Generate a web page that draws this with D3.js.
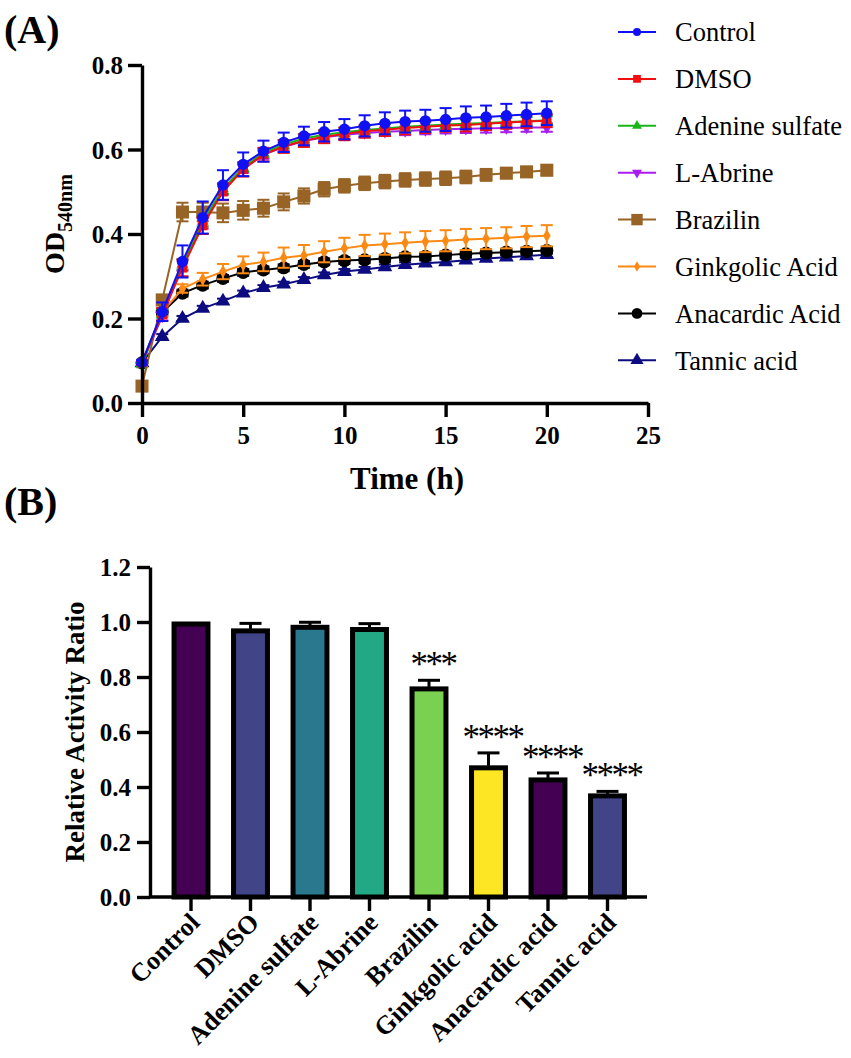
<!DOCTYPE html>
<html><head><meta charset="utf-8">
<script src="https://cdn.jsdelivr.net/npm/d3@7"></script>
<style>
body{margin:0;background:#fff;}
svg{display:block;}
text{font-family:"Liberation Serif","Times New Roman",serif;}
</style></head>
<body>
<svg id="chart" width="851" height="1058"></svg>
<script>
// ---------- Panel A data ----------
const timeH = [0,1,2,3,4,5,6,7,8,9,10,11,12,13,14,15,16,17,18,19,20];
const xTicksA = [0,5,10,15,20,25];
const yTicksA = [0.0,0.2,0.4,0.6,0.8];
const seriesNames = ["Control","DMSO","Adenine sulfate","L-Abrine","Brazilin","Ginkgolic Acid","Anacardic Acid","Tannic acid"];
const seriesColors = ["#1010f5","#f01010","#18b418","#a81cf0","#986426","#fb8a14","#000000","#0c0c80"];
const seriesShapes = ["circle","square","triangle","triangleDown","square","diamond","circle","triangle"];
const seriesMarkerSize = [100,90,60,60,170,50,135,95];
const legendMarkerSize = [50,60,42,42,130,32,90,75];

const control   = [0.096,0.216,0.335,0.439,0.516,0.565,0.596,0.617,0.632,0.642,0.648,0.656,0.662,0.666,0.668,0.671,0.675,0.677,0.680,0.683,0.686];
const controlSD = [0.005,0.022,0.038,0.038,0.035,0.028,0.025,0.023,0.022,0.023,0.024,0.025,0.026,0.026,0.026,0.027,0.027,0.027,0.028,0.028,0.028];
const dmso      = [0.095,0.210,0.320,0.420,0.500,0.553,0.588,0.607,0.621,0.630,0.637,0.643,0.647,0.651,0.654,0.657,0.658,0.661,0.664,0.666,0.668];
const dmsoSD    = [0.005,0.015,0.020,0.020,0.020,0.017,0.016,0.015,0.015,0.015,0.015,0.015,0.015,0.015,0.015,0.015,0.015,0.015,0.015,0.015,0.015];
const adenine   = [0.090,0.212,0.328,0.430,0.507,0.558,0.592,0.612,0.626,0.635,0.641,0.646,0.650,0.654,0.656,0.659,0.661,0.663,0.665,0.667,0.669];
const adenineSD = [0.004,0.010,0.012,0.012,0.012,0.010,0.010,0.010,0.010,0.010,0.010,0.010,0.010,0.010,0.010,0.010,0.010,0.010,0.010,0.010,0.010];
const abrine    = [0.095,0.205,0.325,0.425,0.505,0.555,0.588,0.606,0.620,0.629,0.635,0.639,0.642,0.644,0.646,0.648,0.649,0.650,0.651,0.652,0.652];
const abrineSD  = [0.004,0.010,0.012,0.012,0.012,0.010,0.010,0.010,0.010,0.010,0.010,0.010,0.010,0.010,0.010,0.010,0.010,0.010,0.010,0.010,0.010];
const brazilin  = [0.040,0.244,0.452,0.452,0.450,0.456,0.461,0.476,0.490,0.506,0.514,0.520,0.524,0.528,0.530,0.532,0.535,0.540,0.544,0.547,0.551];
const brazilinSD= [0.003,0.005,0.022,0.022,0.022,0.022,0.020,0.020,0.018,0.017,0.016,0.016,0.016,0.016,0.016,0.016,0.015,0.014,0.012,0.012,0.012];
const ginkgolic = [0.095,0.215,0.271,0.293,0.311,0.327,0.334,0.344,0.349,0.358,0.366,0.373,0.376,0.379,0.382,0.384,0.387,0.389,0.391,0.394,0.396];
const ginkgolicSD=[0.005,0.010,0.010,0.015,0.018,0.020,0.022,0.024,0.025,0.025,0.025,0.025,0.025,0.025,0.025,0.025,0.025,0.025,0.025,0.025,0.025];
const anacardic = [0.095,0.215,0.260,0.279,0.295,0.309,0.315,0.320,0.328,0.334,0.337,0.339,0.342,0.346,0.347,0.350,0.353,0.355,0.357,0.359,0.361];
const anacardicSD=[0.004,0.008,0.008,0.008,0.008,0.008,0.008,0.008,0.008,0.008,0.008,0.008,0.008,0.008,0.008,0.008,0.008,0.008,0.008,0.008,0.008];
const tannic    = [0.095,0.157,0.200,0.224,0.241,0.260,0.273,0.281,0.292,0.303,0.311,0.316,0.322,0.327,0.331,0.334,0.338,0.342,0.345,0.348,0.351];
const tannicSD  = [0.004,0.006,0.006,0.006,0.006,0.006,0.006,0.006,0.006,0.006,0.006,0.006,0.006,0.006,0.006,0.006,0.006,0.006,0.006,0.006,0.006];

const seriesValues = [control,dmso,adenine,abrine,brazilin,ginkgolic,anacardic,tannic];
const seriesSD = [controlSD,dmsoSD,adenineSD,abrineSD,brazilinSD,ginkgolicSD,anacardicSD,tannicSD];

// ---------- Panel B data ----------
const categories = ["Control","DMSO","Adenine sulfate","L-Abrine","Brazilin","Ginkgolic acid","Anacardic acid","Tannic acid"];
const activity   = [1.000,0.975,0.988,0.980,0.764,0.477,0.433,0.375];
const activitySD = [0.000,0.020,0.011,0.014,0.024,0.047,0.018,0.009];
const significance = ["","","","","***","****","****","****"];
const barColors = ["#440154","#414487","#2a788e","#22a884","#7ad151","#fde725","#440154","#414487"];
const yTicksB = [0.0,0.2,0.4,0.6,0.8,1.0,1.2];

const svg = d3.select("#chart");
const shapeMap = {circle:d3.symbolCircle,square:d3.symbolSquare,triangle:d3.symbolTriangle,triangleDown:d3.symbolTriangle,diamond:d3.symbolDiamond};
function symPath(shape,size){ return d3.symbol().type(shapeMap[shape]).size(size)(); }

// ================= Panel A =================
const xA = d3.scaleLinear().domain([0,25]).range([142,648]);
const yA = d3.scaleLinear().domain([0,0.8]).range([403,65]);

svg.append("text").attr("x",4).attr("y",43).attr("font-size",40).attr("font-weight","bold").text("(A)");

const gA = svg.append("g");
for (let s = seriesNames.length-1; s >= 0; s--) {
  const vals = seriesValues[s], sd = seriesSD[s], col = seriesColors[s];
  const g = gA.append("g");
  const pts = timeH.map((t,i)=>({t,v:vals[i],sd:sd[i]}));
  const eb = g.selectAll("g.eb").data(pts).join("g");
  eb.append("line").attr("x1",d=>xA(d.t)).attr("x2",d=>xA(d.t))
    .attr("y1",d=>yA(d.v-d.sd)).attr("y2",d=>yA(d.v+d.sd))
    .attr("stroke",col).attr("stroke-width",2);
  eb.append("line").attr("x1",d=>xA(d.t)-6).attr("x2",d=>xA(d.t)+6)
    .attr("y1",d=>yA(d.v+d.sd)).attr("y2",d=>yA(d.v+d.sd)).attr("stroke",col).attr("stroke-width",2);
  eb.append("line").attr("x1",d=>xA(d.t)-6).attr("x2",d=>xA(d.t)+6)
    .attr("y1",d=>yA(d.v-d.sd)).attr("y2",d=>yA(d.v-d.sd)).attr("stroke",col).attr("stroke-width",2);
  g.append("path").datum(pts)
    .attr("d",d3.line().x(d=>xA(d.t)).y(d=>yA(d.v)))
    .attr("fill","none").attr("stroke",col).attr("stroke-width",2);
  g.selectAll("path.m").data(pts).join("path")
    .attr("d",symPath(seriesShapes[s],seriesMarkerSize[s]))
    .attr("transform",d=>`translate(${xA(d.t)},${yA(d.v)})${seriesShapes[s]==="triangleDown"?" rotate(180)":""}`)
    .attr("fill",col);
}

const axA = svg.append("g");
const xAxisA = axA.append("g").attr("transform",`translate(0,${yA(0)})`)
  .call(d3.axisBottom(xA).tickValues(xTicksA).tickSize(14).tickFormat(d3.format("d")).tickSizeOuter(0));
const yAxisA = axA.append("g").attr("transform",`translate(${xA(0)},0)`)
  .call(d3.axisLeft(yA).tickValues(yTicksA).tickSize(14).tickFormat(d3.format(".1f")).tickSizeOuter(0));
[xAxisA,yAxisA].forEach(a=>{
  a.selectAll("path.domain").attr("stroke","#000").attr("stroke-width",3.4);
  a.selectAll(".tick line").attr("stroke","#000").attr("stroke-width",3.4);
  a.selectAll(".tick text").attr("font-family","Liberation Serif").attr("font-weight","bold").attr("font-size",25).attr("fill","#000");
});
xAxisA.selectAll(".tick text").attr("dy","0.95em");
yAxisA.selectAll(".tick text").attr("dx","-2").attr("dy","0.35em");

svg.append("text").attr("x",(xA(0)+xA(25))/2+12).attr("y",489).attr("text-anchor","middle")
  .attr("font-size",31).attr("font-weight","bold").text("Time (h)");
const odLab = svg.append("text").attr("transform",`translate(64,${yA(0.4)-10}) rotate(-90)`).attr("text-anchor","middle")
  .attr("font-size",28).attr("font-weight","bold");
odLab.append("tspan").text("OD");
odLab.append("tspan").attr("font-size",20).attr("dy",8).text("540nm");

const legG = svg.append("g");
seriesNames.forEach((n,i)=>{
  const y = 32 + i*46.9;
  const row = legG.append("g").attr("transform",`translate(0,${y})`);
  row.append("line").attr("x1",618).attr("x2",656).attr("y1",0).attr("y2",0).attr("stroke",seriesColors[i]).attr("stroke-width",2);
  row.append("path").attr("d",symPath(seriesShapes[i],legendMarkerSize[i]))
    .attr("transform",`translate(637,0)${seriesShapes[i]==="triangleDown"?" rotate(180)":""}`).attr("fill",seriesColors[i]);
  row.append("text").attr("x",675).attr("y",0).attr("dy","0.35em").attr("font-size",26.5).text(n);
});

// ================= Panel B =================
svg.append("text").attr("x",4).attr("y",515).attr("font-size",40).attr("font-weight","bold").text("(B)");

const xB = d3.scaleBand().domain(categories).range([161.25,637.25]).paddingInner(0.43).paddingOuter(0.215);
const yB = d3.scaleLinear().domain([0,1.2]).range([897,567]);
const gB = svg.append("g");
const barData = categories.map((c,i)=>({c,v:activity[i],sd:activitySD[i],col:barColors[i],sig:significance[i]}));

gB.selectAll("rect.bar").data(barData).join("rect")
  .attr("x",d=>xB(d.c)).attr("width",xB.bandwidth())
  .attr("y",d=>yB(d.v)+2).attr("height",d=>yB(0)-yB(d.v)-2)
  .attr("fill",d=>d.col).attr("stroke","#000").attr("stroke-width",5);

const ebB = gB.selectAll("g.eb").data(barData.filter(d=>d.sd>0)).join("g");
ebB.append("line").attr("x1",d=>xB(d.c)+xB.bandwidth()/2).attr("x2",d=>xB(d.c)+xB.bandwidth()/2)
  .attr("y1",d=>yB(d.v)).attr("y2",d=>yB(d.v+d.sd)).attr("stroke","#000").attr("stroke-width",3);
ebB.append("line").attr("x1",d=>xB(d.c)+xB.bandwidth()/2-11).attr("x2",d=>xB(d.c)+xB.bandwidth()/2+11)
  .attr("y1",d=>yB(d.v+d.sd)).attr("y2",d=>yB(d.v+d.sd)).attr("stroke","#000").attr("stroke-width",3);

gB.selectAll("text.sig").data(barData.filter(d=>d.sig)).join("text")
  .attr("x",d=>xB(d.c)+xB.bandwidth()/2+4).attr("y",d=>yB(d.v+d.sd)-4)
  .attr("text-anchor","middle").attr("font-size",35).attr("letter-spacing",-2.5)
  .attr("font-family","Liberation Serif").text(d=>d.sig);

const xAxisB = svg.append("g").attr("transform",`translate(0,${yB(0)})`)
  .call(d3.axisBottom(xB).tickSize(14).tickSizeOuter(0));
xAxisB.select("path.domain").attr("d",`M150,0H647`);
const yAxisB = svg.append("g").attr("transform",`translate(150,0)`)
  .call(d3.axisLeft(yB).tickValues(yTicksB).tickSize(13).tickFormat(d3.format(".1f")).tickSizeOuter(0));
[xAxisB,yAxisB].forEach(a=>{
  a.selectAll("path.domain").attr("stroke","#000").attr("stroke-width",3.4);
  a.selectAll(".tick line").attr("stroke","#000").attr("stroke-width",3.4);
  a.selectAll(".tick text").attr("font-family","Liberation Serif").attr("font-weight","bold").attr("font-size",25).attr("fill","#000");
});
yAxisB.selectAll(".tick text").attr("dx","-3").attr("dy","0.35em");
xAxisB.selectAll(".tick text").attr("text-anchor","end").attr("y",0).attr("dy",0).attr("font-size",26)
  .attr("transform","translate(10,27) rotate(-45)");

svg.append("text").attr("transform",`translate(84,${(yB(0)+yB(1.2))/2}) rotate(-90)`).attr("text-anchor","middle")
  .attr("font-size",27).attr("font-weight","bold").text("Relative Activity Ratio");
</script>
</body></html>
